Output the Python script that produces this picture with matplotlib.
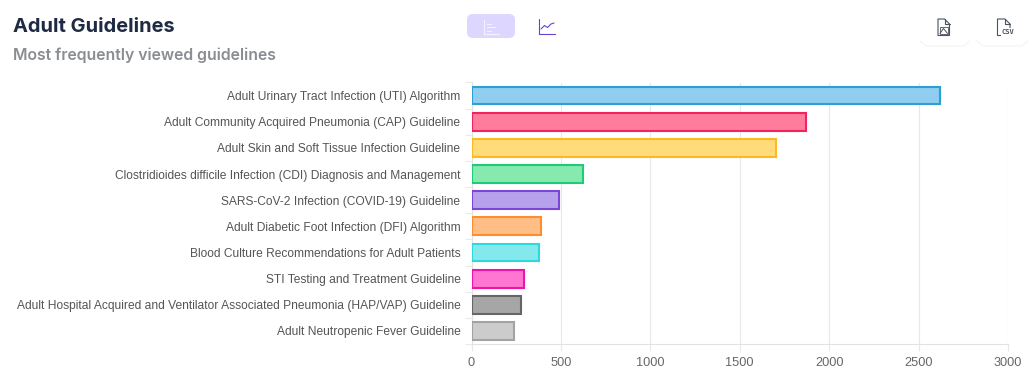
import matplotlib
matplotlib.use("Agg")
import matplotlib.pyplot as plt
from matplotlib.patches import FancyBboxPatch, Polygon, Rectangle
from matplotlib.lines import Line2D

categories = [
    "Adult Urinary Tract Infection (UTI) Algorithm",
    "Adult Community Acquired Pneumonia (CAP) Guideline",
    "Adult Skin and Soft Tissue Infection Guideline",
    "Clostridioides difficile Infection (CDI) Diagnosis and Management",
    "SARS-CoV-2 Infection (COVID-19) Guideline",
    "Adult Diabetic Foot Infection (DFI) Algorithm",
    "Blood Culture Recommendations for Adult Patients",
    "STI Testing and Treatment Guideline",
    "Adult Hospital Acquired and Ventilator Associated Pneumonia (HAP/VAP) Guideline",
    "Adult Neutropenic Fever Guideline",
]
values = [2620, 1870, 1700, 625, 490, 390, 380, 295, 278, 240]
edge_colors = ["#2E9FD0", "#F0245F", "#FFB81F", "#1FCB78", "#7B45D6",
               "#FF8C2E", "#2DD9DC", "#F013A8", "#666666", "#A3A3A3"]
fill_colors = ["#8FCEF0", "#FF7C9C", "#FFDB7A", "#84EAAE", "#B7A1EC",
               "#FFBE85", "#84E8EC", "#FF75D2", "#A6A6A6", "#CCCCCC"]
xticks = [0, 500, 1000, 1500, 2000, 2500, 3000]

W, H = 1035, 383
fig = plt.figure(figsize=(W / 100, H / 100), dpi=100, facecolor="white")

L, R, T, B = 471.5, 1008, 82.5, 344
ax = fig.add_axes([L / W, 1 - B / H, (R - L) / W, (B - T) / H])
ypos = list(range(len(categories)))
ax.barh(ypos, values, height=0.68, color=fill_colors, edgecolor=edge_colors,
        linewidth=1.5, zorder=3)
ax.set_xlim(0, 3000)
ax.set_ylim(len(categories) - 0.5, -0.5)
ax.set_xticks(xticks)
ax.set_yticks(ypos)
ax.set_yticklabels(categories)
ax.set_axisbelow(True)
ax.grid(axis="x", color="#E8E8E8", linewidth=0.8)
ax.grid(axis="y", visible=False)
for s in ["top", "right"]:
    ax.spines[s].set_visible(False)
for s in ["left", "bottom"]:
    ax.spines[s].set_color("#E2E2E2")
    ax.spines[s].set_linewidth(0.8)
ax.tick_params(axis="x", length=5, width=0.8, color="#E8E8E8", pad=4.2,
               labelsize=9.2, labelcolor="#666666")
for lab in ax.get_xticklabels():
    lab.set_family("Liberation Sans")
ax.tick_params(axis="y", which="major", length=0, pad=8,
               labelsize=8.65, labelcolor="#555555")
for lab in ax.get_yticklabels():
    lab.set_family("Liberation Sans")
ax.set_yticks([i + 0.5 for i in range(-1, len(categories))], minor=True)
ax.tick_params(axis="y", which="minor", length=5, width=0.8, color="#EAEAEA")

# Page furniture in pixel coordinates
ov = fig.add_axes([0, 0, 1, 1], facecolor="none", zorder=5)
ov.set_xlim(0, W)
ov.set_ylim(H, 0)
ov.axis("off")
ov.text(13, 27, "Adult Guidelines", family="Inter", weight="bold", fontsize=14.4,
        color="#1F2A44", va="center", ha="left")
ov.text(13, 55.5, "Most frequently viewed guidelines", family="Inter", weight="semibold",
        fontsize=11.38, color="#8A8D91", va="center", ha="left")

ov.add_patch(FancyBboxPatch((467, 14), 48, 24, boxstyle="round,pad=0,rounding_size=6",
                            fc="#DDD6FE", ec="none"))
def pl(xs, ys, c, lw=0.8):
    ov.add_line(Line2D(xs, ys, color=c, lw=lw, solid_capstyle="round", solid_joinstyle="round"))

# bar-chart icon
pl([484, 484, 499], [20, 33.5, 33.5], "#F5F2FF")
for y, x1 in [(23.5, 491), (27, 495), (30.5, 491)]:
    pl([487, x1], [y, y], "#F5F2FF")
# line-chart icon
pl([539, 539, 555], [19, 33.5, 33.5], "#6D3FD0")
pl([541, 544.5, 547.5, 551, 554], [29, 25.5, 27.5, 24, 23], "#6D3FD0")

# export buttons: faint shadow under the rounded cards
for x0, x1 in [(918, 972), (975, 1030)]:
    pl([x0 + 2, x0 + 8, x1 - 8, x1 - 2], [41, 46, 46, 41], "#F5F5F5", 1.0)

# image-file icon
ic = "#4A5260"
ov.add_patch(Polygon([(938, 19), (944.5, 19), (949.5, 24), (949.5, 35.5), (938, 35.5)],
                     closed=True, fc="none", ec=ic, lw=0.8))
pl([944.5, 944.5, 949.5], [19, 24, 24], ic)
ov.add_patch(Rectangle((940, 27), 7.5, 6.5, fc="none", ec=ic, lw=0.6))
pl([940, 943.5, 947.5], [33.5, 28.5, 33.5], ic, 0.7)
# csv-file icon
ov.add_patch(Polygon([(1001, 35.5), (997.5, 35.5), (997.5, 19), (1005, 19), (1010, 24), (1010, 28)],
                     closed=False, fc="none", ec=ic, lw=0.8))
pl([1005, 1005, 1010], [19, 24, 24], ic)
ov.text(1002, 32.5, "CSV", family="DejaVu Sans Mono", weight="bold", fontsize=5.0, color=ic,
        va="center", ha="left")

fig.savefig("out.png", dpi=100)
